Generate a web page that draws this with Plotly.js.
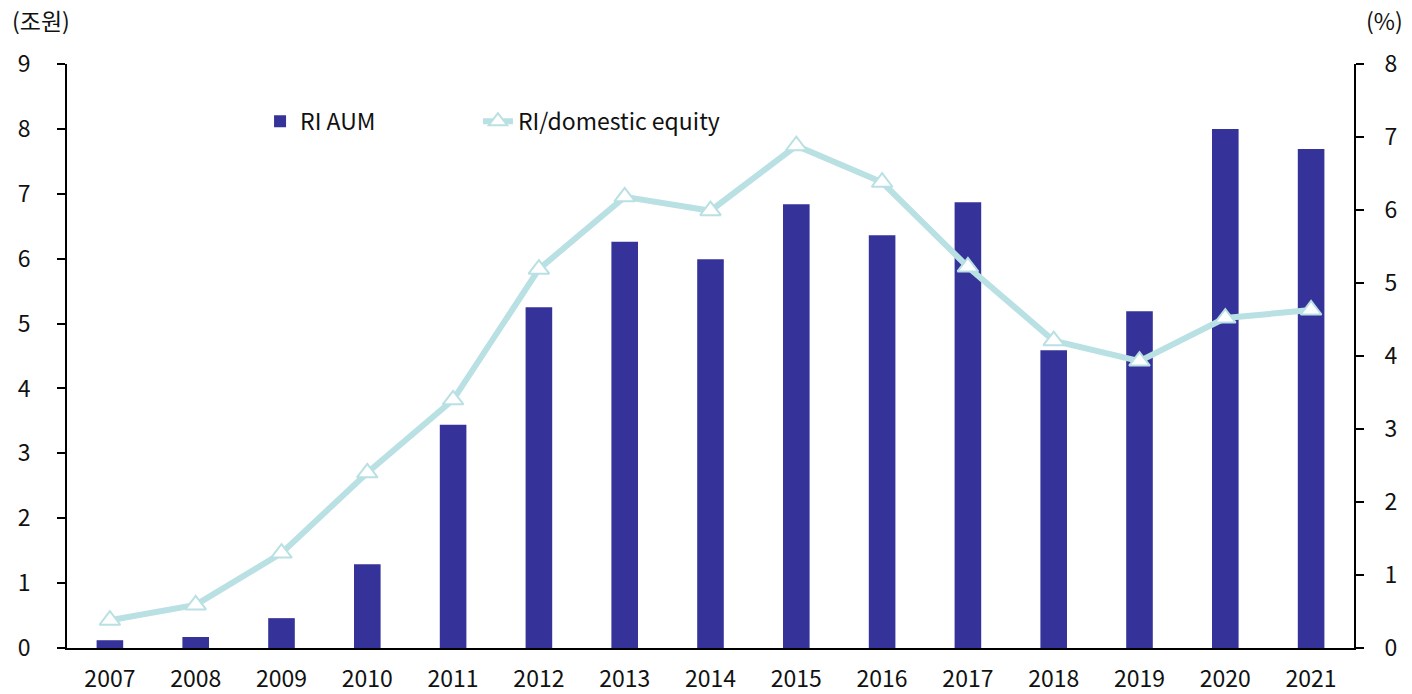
<!DOCTYPE html>
<html>
<head>
<meta charset="utf-8">
<script src="https://cdn.plot.ly/plotly-3.0.1.min.js"></script>
<style>html,body{margin:0;padding:0;background:#fff;}#chart{width:1412px;height:694px;}</style>
</head>
<body>
<div id="chart"></div>
<script>
const years = ["2007","2008","2009","2010","2011","2012","2013","2014","2015","2016","2017","2018","2019","2020","2021"];
const riAum = [0.12,0.17,0.46,1.29,3.44,5.25,6.26,5.99,6.84,6.36,6.87,4.59,5.19,8.0,7.69];
const riShare = [0.38,0.59,1.30,2.40,3.40,5.19,6.18,5.99,6.88,6.38,5.22,4.21,3.93,4.52,4.63];
const leftTicks = [0,1,2,3,4,5,6,7,8,9];
const rightTicks = [0,1,2,3,4,5,6,7,8];

const FONT = "'Noto Sans CJK KR', 'Noto Sans', sans-serif";
const FS = 23;

const traces = [
  {
    type: "bar", name: "RI AUM", x: years, y: riAum, legend: "legend",
    marker: {color: "#35339A"}, width: 0.31, yaxis: "y"
  },
  {
    type: "scatter", mode: "lines+markers", name: "RI/domestic equity", legend: "legend2",
    x: years, y: riShare, yaxis: "y2",
    line: {color: "#B9E0E3", width: 6},
    marker: {symbol: "triangle-up", size: 18, color: "#FFFFFF", line: {color: "#B9E0E3", width: 2}}
  }
];

const legendBase = {orientation: "h", xanchor: "left", yanchor: "middle", y: 0.902,
                    font: {family: FONT, size: FS, color: "#111"}, bgcolor: "rgba(0,0,0,0)"};

const layout = {
  width: 1412, height: 694,
  margin: {l: 67, r: 58, t: 64, b: 46},
  paper_bgcolor: "#fff", plot_bgcolor: "#fff",
  font: {family: FONT, size: FS, color: "#111"},
  showlegend: true,
  legend: Object.assign({}, legendBase, {x: 0.15}),
  legend2: Object.assign({}, legendBase, {x: 0.3193}),
  xaxis: {type: "category", range: [-0.5, 14.5], showline: true, linecolor: "#000", linewidth: 2,
          ticks: "", showgrid: false, zeroline: false, ticklabelstandoff: 9,
          tickfont: {family: FONT, size: FS, color: "#111"}, fixedrange: true},
  yaxis: {range: [0, 9], tickvals: leftTicks, showline: true, linecolor: "#000", linewidth: 2,
          ticks: "outside", ticklen: 8, tickwidth: 2, tickcolor: "#000", showgrid: false, zeroline: false,
          ticklabelstandoff: 22, tickfont: {family: FONT, size: FS, color: "#111"}},
  yaxis2: {range: [0, 8], tickvals: rightTicks, overlaying: "y", side: "right", showline: true,
           linecolor: "#000", linewidth: 2, ticks: "outside", ticklen: 8, tickwidth: 2, tickcolor: "#000",
           showgrid: false, zeroline: false, ticklabelstandoff: 16,
           tickfont: {family: FONT, size: FS, color: "#111"}},
  annotations: [
    {text: "(조원)", xref: "paper", yref: "paper", x: -0.0443, y: 1.075, xanchor: "left", yanchor: "middle",
     showarrow: false, font: {family: FONT, size: FS, color: "#111"}},
    {text: "(%)", xref: "paper", yref: "paper", x: 1.0396, y: 1.075, xanchor: "right", yanchor: "middle",
     showarrow: false, font: {family: FONT, size: FS, color: "#111"}}
  ]
};

Plotly.newPlot("chart", traces, layout, {displayModeBar: false, staticPlot: true});
</script>
</body>
</html>
